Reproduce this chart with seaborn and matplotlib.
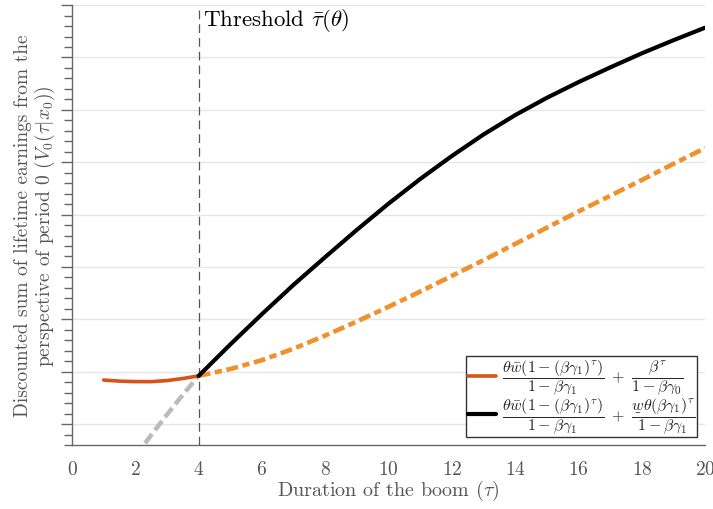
import numpy as np
import pandas as pd
import matplotlib
matplotlib.use("Agg")
import matplotlib.pyplot as plt
from matplotlib.ticker import AutoMinorLocator, MultipleLocator
import seaborn as sns

# ---- data ----
tau_low = [1.0, 1.5, 2.0, 2.5, 3.0, 3.5, 4.0]
v_low = [0.84, 0.82, 0.81, 0.81, 0.83, 0.87, 0.92]

tau_gray = [2.0, 2.5, 3.0, 3.5, 4.0]
v_gray = [-0.62, -0.21, 0.18, 0.56, 0.92]

tau_high = [4, 5, 6, 7, 8, 9, 10, 11, 12, 13, 14, 15, 16, 17, 18, 19, 20]
v_black = [0.92, 1.52, 2.10, 2.66, 3.19, 3.71, 4.21, 4.68, 5.12, 5.53,
           5.90, 6.23, 6.53, 6.81, 7.08, 7.33, 7.57]
v_orange = [0.92, 1.05, 1.22, 1.44, 1.69, 1.96, 2.24, 2.53, 2.83, 3.13,
            3.44, 3.75, 4.06, 4.36, 4.66, 4.97, 5.27]

threshold = 4
x_ticks = [0, 2, 4, 6, 8, 10, 12, 14, 16, 18, 20]

label_low = (r'$\dfrac{\theta\bar{w}(1-(\beta\gamma_1)^\tau)}{1-\beta\gamma_1}\ +\ '
             r'\dfrac{\beta^\tau}{1-\beta\gamma_0}$')
label_high = (r'$\dfrac{\theta\bar{w}(1-(\beta\gamma_1)^\tau)}{1-\beta\gamma_1}\ +\ '
              r'\dfrac{\underset{\_}{w}\theta(\beta\gamma_1)^\tau}{1-\beta\gamma_1}$')

# ---- style ----
sns.set_theme(style="white")
plt.rcParams['font.family'] = ['serif']
plt.rcParams['font.serif'] = ['cmr10', 'DejaVu Serif']
plt.rcParams['mathtext.fontset'] = 'cm'
plt.rcParams['axes.formatter.use_mathtext'] = True

fig = plt.figure(figsize=(7.13, 5.10), dpi=100)
ax = fig.add_axes([0.101, 0.1255, 0.888, 0.8625])

df_low = pd.DataFrame({'tau': tau_low, 'v': v_low})
df_gray = pd.DataFrame({'tau': tau_gray, 'v': v_gray})
df_black = pd.DataFrame({'tau': tau_high, 'v': v_black})
df_orange = pd.DataFrame({'tau': tau_high, 'v': v_orange})

c_red = '#D95319'
c_orange = '#F0922B'
c_gray = '#BBBBBB'

sns.lineplot(data=df_gray, x='tau', y='v', ax=ax, color=c_gray, lw=3.2,
             zorder=2).lines[-1].set_dashes([2.6, 1.1])
l_orange = sns.lineplot(data=df_orange, x='tau', y='v', ax=ax, color=c_orange,
                        lw=3.3, zorder=3).lines[-1]
l_orange.set_dashes([2.6, 1.0, 1.6, 1.0])
sns.lineplot(data=df_low, x='tau', y='v', ax=ax, color=c_red, lw=2.6,
             label=label_low, zorder=4)
sns.lineplot(data=df_black, x='tau', y='v', ax=ax, color='black', lw=3.0,
             label=label_high, zorder=5)
for ln in ax.lines:
    ln.set_solid_joinstyle('round')
    ln.set_dash_joinstyle('round')

ax.axvline(threshold, color='#555555', lw=0.9, dashes=(7, 4), zorder=1)
ax.text(threshold + 0.15, 7.72, r'Threshold $\bar{\tau}(\theta)$', fontsize=16.5,
        color='black', va='center', ha='left')

ax.set_xlim(0, 20)
ax.set_ylim(-0.4, 8)
ax.set_xticks(x_ticks)
ax.yaxis.set_major_locator(MultipleLocator(1))
ax.yaxis.set_minor_locator(AutoMinorLocator(5))
ax.set_yticklabels([])
ax.grid(axis='y', which='major', color='#E6E6E6', lw=1.0)
ax.grid(axis='x', visible=False)

for s in ['top', 'right']:
    ax.spines[s].set_visible(False)
for s in ['left', 'bottom']:
    ax.spines[s].set_color('#666666')
    ax.spines[s].set_linewidth(1.0)

ax.tick_params(axis='x', which='major', direction='out', length=6, width=1,
               color='#666666', labelcolor='#555555', labelsize=14, pad=5)
ax.tick_params(axis='y', which='major', direction='out', length=8, width=1,
               color='#666666', left=True)
ax.tick_params(axis='y', which='minor', direction='out', length=6, width=1,
               color='#666666', left=True)

ax.set_xlabel(r'Duration of the boom $(\tau)$', fontsize=14.5, color='#555555',
              labelpad=0)
ax.set_ylabel('Discounted sum of lifetime earnings from the\n'
              r'perspective of period 0 $(V_0(\tau|x_0))$', fontsize=14,
              color='#555555', labelpad=-1, linespacing=1.05)

leg = ax.legend(loc='lower right', fontsize=11.5, frameon=True, fancybox=False,
                edgecolor='#333333', framealpha=1, handlelength=1.8,
                handletextpad=0.35, borderpad=0.12, labelspacing=-0.1,
                borderaxespad=0.5)
leg.get_frame().set_linewidth(1.0)

fig.savefig('out.png', dpi=100)
